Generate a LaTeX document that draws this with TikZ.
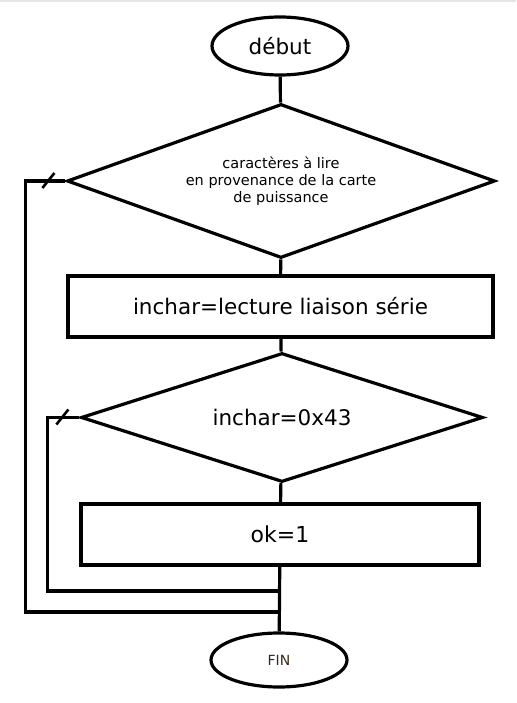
\documentclass[tikz,border=0pt]{standalone}
\usepackage{fontspec}
\setmainfont{DejaVu Sans}
\usepackage{tikz}
\usetikzlibrary{shapes.geometric}
\tikzstyle{trait}=[line width=3.2pt, color=black]
\tikzstyle{bout}=[ellipse, draw, trait, minimum width=136pt, minimum height=58pt, inner sep=0pt]
\tikzstyle{test}=[diamond, draw, trait, inner sep=0pt]
\tikzstyle{action}=[rectangle, draw, trait, minimum height=61pt, inner sep=0pt]
\tikzstyle{grand}=[font=\fontsize{21.5}{26}\selectfont]
\tikzstyle{petit}=[font=\fontsize{14.5}{17}\selectfont, align=center]
\tikzstyle{coche}=[line width=2.6pt, color=black]
\definecolor{bordgris}{rgb}{0.9, 0.9, 0.9}
\definecolor{finbrun}{rgb}{0.22, 0.16, 0.08}

\begin{document}
\begin{tikzpicture}[x=1pt, y=-1pt]
		\useasboundingbox (0,0) rectangle (516,703);
		\draw[line width=2pt, color=bordgris] (0,1)--(516,1);

		\node[bout, grand] (debut) at (280,46) {début};
		\node[test, minimum width=428pt, minimum height=154pt] (lire) at (281,181) {};
		\node[petit] (lireTxt) at (281,181) {caractères à lire\\en provenance de la carte\\de puissance};
		\node[action, grand, minimum width=425pt] (lecture) at (280.5,306.5) {inchar=lecture liaison série};
		\node[test, minimum width=402pt, minimum height=129pt] (car) at (282,417.5) {};
		\node[grand] (carTxt) at (282,417.5) {inchar=0x43};
		\node[action, minimum width=398pt, font=\fontsize{22}{26}\selectfont] (ok) at (280,534.5) {ok=1};
		\node[bout, minimum height=54pt, font=\fontsize{14}{17}\selectfont, text=finbrun] (fin) at (279,660) {FIN};

		\coordinate (retour1) at (280,612);
		\coordinate (retour2) at (280,591);

		\draw[trait] (debut)--(lire);
		\draw[trait] (lire)--(lecture);
		\draw[trait] (lecture)--(car);
		\draw[trait] (car)--(ok);
		\draw[trait] (ok)--(fin);

		% boucles de retour
		\draw[trait] (lire.west) -- ++(-40,0) |- (retour1);
		\draw[trait] (car.west) -- ++(-32,0) |- (retour2);
		\draw[coche] ([xshift=-17pt]lire.west) ++(-6,7) -- ++(12,-15);
		\draw[coche] ([xshift=-17pt]car.west) ++(-6,7) -- ++(12,-15);

\end{tikzpicture}
\end{document}
